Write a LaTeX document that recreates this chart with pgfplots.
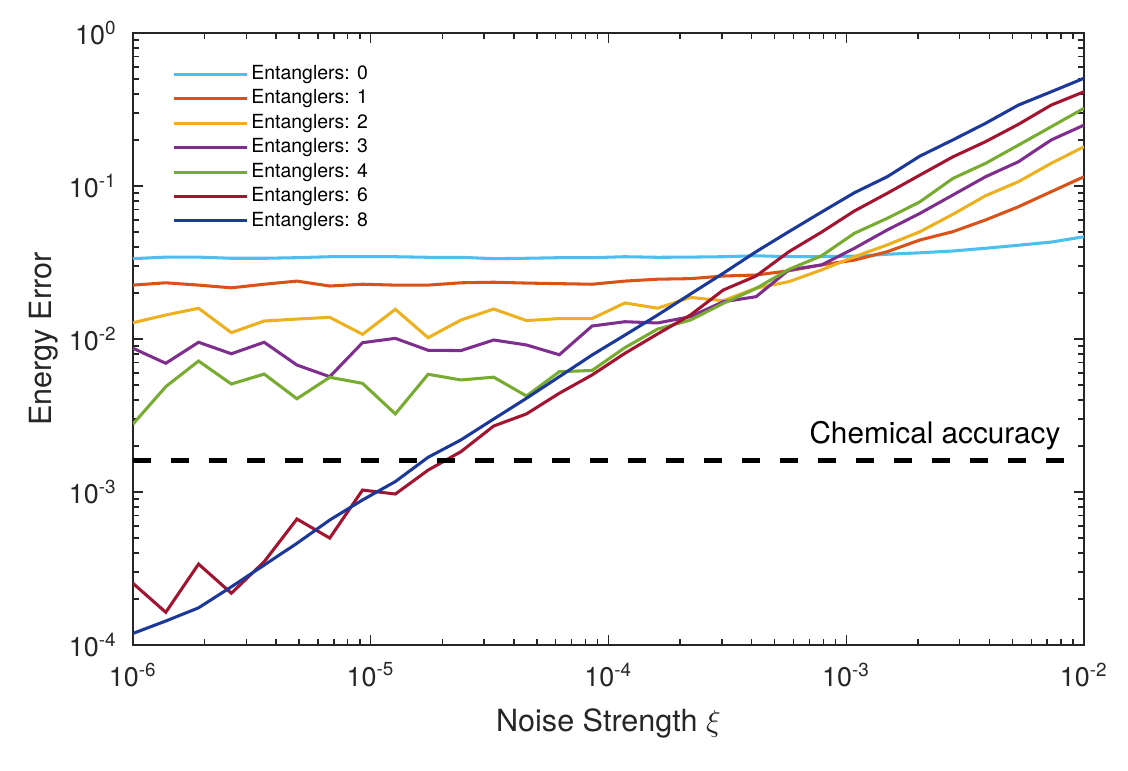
\documentclass[border=0pt]{standalone}
\usepackage{pgfplots}
\pgfplotsset{compat=1.18}
\usepackage{pgfplotstable}
\usepackage{fontspec}
\setmainfont{TeX Gyre Heros}

\definecolor{c0}{rgb}{0.301,0.745,0.933}
\definecolor{c1}{rgb}{0.850,0.325,0.098}
\definecolor{c2}{rgb}{0.929,0.694,0.125}
\definecolor{c3}{rgb}{0.494,0.184,0.556}
\definecolor{c4}{rgb}{0.466,0.674,0.188}
\definecolor{c6}{rgb}{0.635,0.078,0.184}
\definecolor{c8}{rgb}{0.110,0.220,0.600}
\definecolor{axgray}{gray}{0.15}

% Energy error versus noise strength, one column per number of entanglers
\pgfplotstableread{
xi          e0      e1      e2      e3       e4       e6        e8
1.0000e-6   0.0335  0.0225  0.01278 0.00870  0.00278  2.53e-4   1.19e-4
1.3738e-6   0.0343  0.0233  0.01435 0.00694  0.00488  1.636e-4  1.435e-4
1.8874e-6   0.0343  0.0225  0.01588 0.00952  0.00718  3.38e-4   1.75e-4
2.5929e-6   0.0337  0.0216  0.01100 0.00801  0.00508  2.18e-4   2.40e-4
3.5622e-6   0.0337  0.0228  0.01311 0.00952  0.00590  3.50e-4   3.33e-4
4.8939e-6   0.0340  0.0239  0.01350 0.00676  0.00407  6.66e-4   4.62e-4
6.7234e-6   0.0345  0.0222  0.01386 0.00567  0.00562  5.00e-4   6.56e-4
9.2367e-6   0.0345  0.0228  0.01073 0.00946  0.00513  1.03e-3   8.87e-4
1.2690e-5   0.0345  0.0225  0.01563 0.01010  0.00324  9.70e-4   1.17e-3
1.7433e-5   0.0342  0.0225  0.01020 0.00844  0.00588  1.39e-3   1.686e-3
2.3950e-5   0.0342  0.0233  0.01330 0.00840  0.00540  1.835e-3  2.19e-3
3.2903e-5   0.0335  0.0235  0.01570 0.00985  0.00563  2.70e-3   3.00e-3
4.5204e-5   0.0337  0.0232  0.01320 0.00914  0.00424  3.24e-3   4.10e-3
6.2102e-5   0.0340  0.0230  0.01360 0.00789  0.00611  4.42e-3   5.67e-3
8.5317e-5   0.0340  0.0228  0.01360 0.01216  0.00623  5.82e-3   7.86e-3
1.1721e-4   0.0345  0.0239  0.01720 0.01297  0.00878  8.06e-3   0.0106
1.6103e-4   0.0342  0.0246  0.01590 0.01273  0.01162  0.0108    0.01435
2.2122e-4   0.0343  0.0248  0.01870 0.01399  0.01330  0.01435   0.01968
3.0392e-4   0.0345  0.0258  0.01780 0.01753  0.01710  0.0209    0.0269
4.1753e-4   0.0350  0.0262  0.02150 0.01890  0.02140  0.0258    0.0372
5.7362e-4   0.0345  0.0279  0.02370 0.02830  0.02850  0.0372    0.0503
7.8805e-4   0.0346  0.0305  0.02830 0.03050  0.03500  0.0500    0.0676
1.0826e-3   0.0348  0.0328  0.03450 0.03920  0.04910  0.0687    0.0904
1.4874e-3   0.0358  0.0372  0.04120 0.05160  0.06150  0.0896    0.115
2.0434e-3   0.0366  0.0444  0.05030 0.06630  0.07890  0.118     0.157
2.8072e-3   0.0376  0.0503  0.06530 0.08730  0.1120   0.155     0.200
3.8566e-3   0.0392  0.0600  0.08640 0.1150   0.1407   0.195     0.257
5.2983e-3   0.0410  0.0732  0.1067  0.1440   0.1850   0.253     0.338
7.2790e-3   0.0430  0.0918  0.1407  0.2000   0.2440   0.338     0.413
1.0000e-2   0.0466  0.1150  0.1806  0.2500   0.3220   0.413     0.506
}\errtable

\begin{document}
\begin{tikzpicture}
\path[use as bounding box] (-47.88pt,-45.36pt) rectangle (358.2pt,232.2pt);
\begin{axis}[
  at={(0,0)}, anchor=south west,
  scale only axis, width=342.36pt, height=220.32pt,
  xmode=log, ymode=log,
  xmin=1e-6, xmax=1e-2, ymin=1e-4, ymax=1,
  xtick={1e-6,1e-5,1e-4,1e-3,1e-2},
  xticklabels={10\textsuperscript{-6},10\textsuperscript{-5},10\textsuperscript{-4},10\textsuperscript{-3},10\textsuperscript{-2}},
  ytick={1e-4,1e-3,1e-2,1e-1,1},
  yticklabels={10\textsuperscript{-4},10\textsuperscript{-3},10\textsuperscript{-2},10\textsuperscript{-1},10\textsuperscript{0}},
  minor xtick={2e-6,3e-6,4e-6,5e-6,6e-6,7e-6,8e-6,9e-6,
               2e-5,3e-5,4e-5,5e-5,6e-5,7e-5,8e-5,9e-5,
               2e-4,3e-4,4e-4,5e-4,6e-4,7e-4,8e-4,9e-4,
               2e-3,3e-3,4e-3,5e-3,6e-3,7e-3,8e-3,9e-3},
  minor ytick={2e-4,3e-4,4e-4,5e-4,6e-4,7e-4,8e-4,9e-4,
               2e-3,3e-3,4e-3,5e-3,6e-3,7e-3,8e-3,9e-3,
               2e-2,3e-2,4e-2,5e-2,6e-2,7e-2,8e-2,9e-2,
               0.2,0.3,0.4,0.5,0.6,0.7,0.8,0.9},
  tick align=inside, tick pos=both,
  major tick length=3.6pt, minor tick length=2.2pt,
  axis line style={axgray, line width=0.5pt},
  every tick/.style={axgray, line width=0.5pt},
  tick label style={font=\fontsize{9.7}{11}\selectfont, text=axgray},
  xticklabel style={yshift=-2.9pt},
  yticklabel style={xshift=-2.2pt},
  every axis x label/.style={at={(axis description cs:0.5,0)}, anchor=base, yshift=-31.3pt,
    font=\fontsize{11}{13}\selectfont, text=axgray},
  every axis y label/.style={at={(axis description cs:0,0.5)}, xshift=-29.2pt, rotate=90, anchor=base,
    font=\fontsize{11}{13}\selectfont, text=axgray},
  xlabel={Noise Strength $\xi$},
  ylabel={Energy Error},
  legend style={draw=none, fill=none, at={(axis description cs:0.041,0.953)}, anchor=north west,
    inner sep=0pt, row sep=0.2pt, font=\fontsize{7}{8}\selectfont,
    nodes={inner sep=1pt, text height=5.2pt, text depth=1.4pt}},
  legend cell align=left,
  legend image code/.code={\draw[#1, line width=1.1pt] (0pt,0pt) -- (26.3pt,0pt);},
  every axis plot/.append style={line width=1.1pt},
]
\addplot[c0, no markers] table[x=xi, y=e0] {\errtable};
\addlegendentry{Entanglers: 0}
\addplot[c1, no markers] table[x=xi, y=e1] {\errtable};
\addlegendentry{Entanglers: 1}
\addplot[c2, no markers] table[x=xi, y=e2] {\errtable};
\addlegendentry{Entanglers: 2}
\addplot[c3, no markers] table[x=xi, y=e3] {\errtable};
\addlegendentry{Entanglers: 3}
\addplot[c4, no markers] table[x=xi, y=e4] {\errtable};
\addlegendentry{Entanglers: 4}
\addplot[c6, no markers] table[x=xi, y=e6] {\errtable};
\addlegendentry{Entanglers: 6}
\addplot[c8, no markers] table[x=xi, y=e8] {\errtable};
\addlegendentry{Entanglers: 8}
% chemical accuracy threshold
\addplot[black, no markers, line width=1.8pt, dash pattern=on 6.5pt off 7.2pt, forget plot]
  coordinates {(1e-6,1.6e-3) (1e-2,1.6e-3)};
\node[anchor=base west, font=\fontsize{10.7}{12}\selectfont, inner sep=0pt]
  at (axis cs:6.97e-4,2.09e-3) {Chemical accuracy};
\end{axis}
\end{tikzpicture}
\end{document}
